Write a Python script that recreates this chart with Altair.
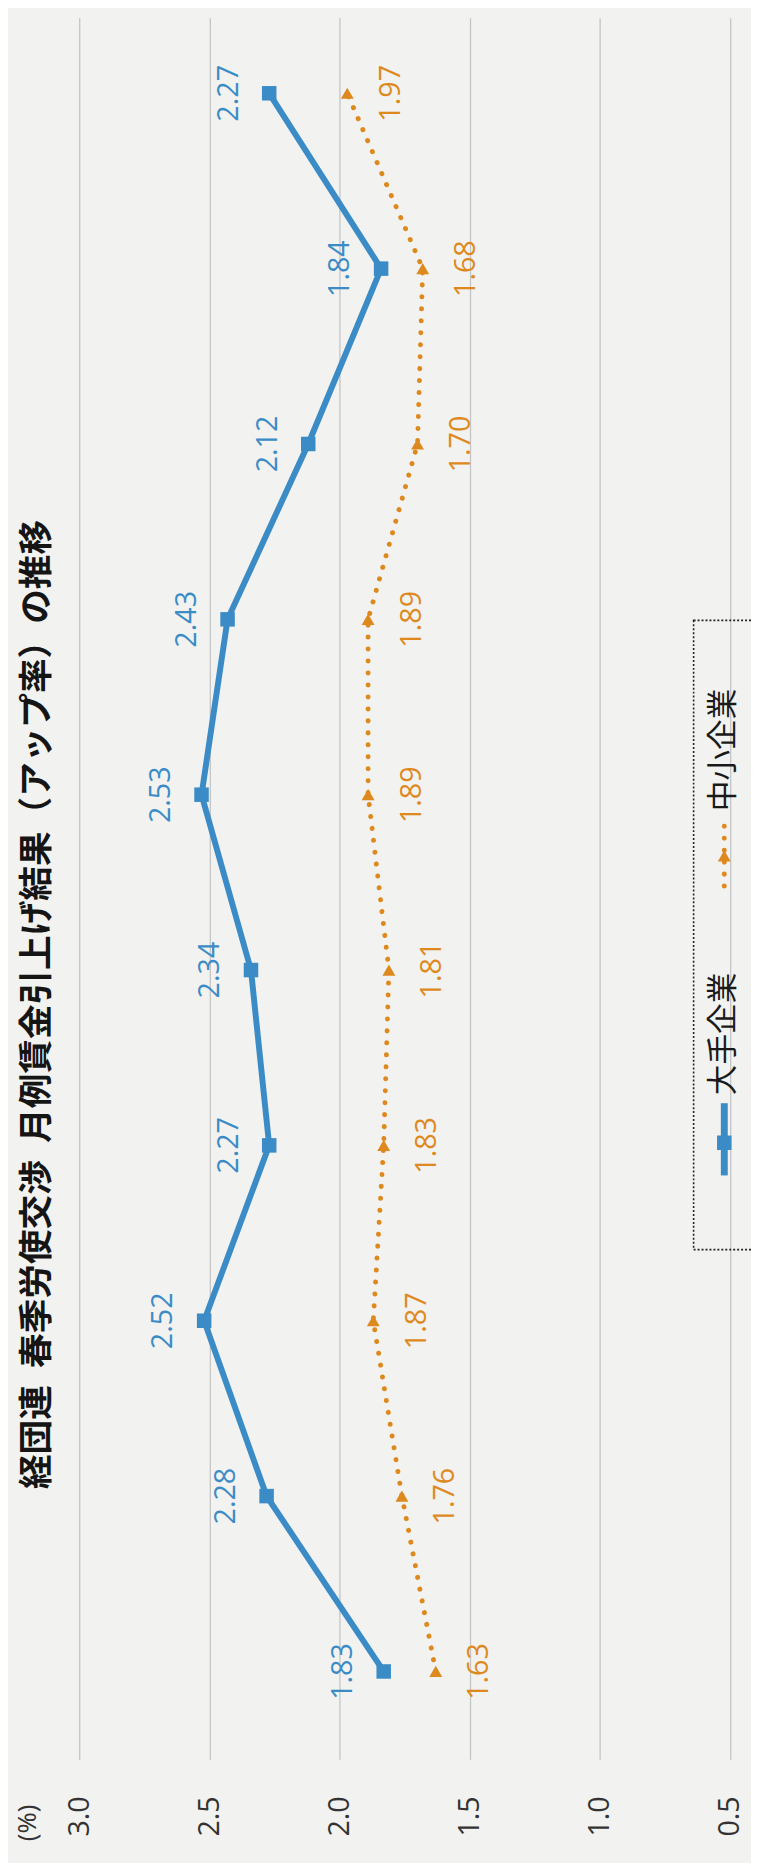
import altair as alt
import pandas as pd

# ---- data ----
years = ["2013", "2014", "2015", "2016", "2017", "2018", "2019", "2020", "2021", "2022"]
large = [1.83, 2.28, 2.52, 2.27, 2.34, 2.53, 2.43, 2.12, 1.84, 2.27]
small = [1.63, 1.76, 1.87, 1.83, 1.81, 1.89, 1.89, 1.70, 1.68, 1.97]
series_names = ["大手企業", "中小企業"]
value_ticks = [0.5, 1.0, 1.5, 2.0, 2.5, 3.0]
title_text = "経団連\u2002春季労使交渉\u2002月例賃金引上げ結果（アップ率）の推移"
unit_text = "(%)"

BLUE = "#3b8cc6"
ORANGE = "#de891e"
BG = "#f2f2f0"

df_large = pd.DataFrame({"idx": list(range(len(years))), "year": years, "value": large,
                         "label": [f"{v:.2f}" for v in large]})
df_small = pd.DataFrame({"idx": list(range(len(years))), "year": years, "value": small,
                         "label": [f"{v:.2f}" for v in small]})

X = alt.X(
    "value:Q",
    scale=alt.Scale(domain=[0.449, 3.0], reverse=True, nice=False, zero=False),
    axis=alt.Axis(
        values=value_ticks, format=".1f", labelAngle=270, labelPadding=37,
        ticks=False, domain=False, grid=True, gridColor="#c4c4c4", gridWidth=1.3,
        labelFont="Open Sans", labelFontSize=29, labelColor="#333333",
        title=unit_text, titleAngle=270, titleX=-52, titleY=64,
        titleAlign="center", titleBaseline="middle",
        titleFont="Open Sans", titleFontSize=26, titleFontWeight="normal",
        titleColor="#333333",
    ),
)
Y = alt.Y("idx:Q", scale=alt.Scale(domain=[-0.5, 9.43], nice=False, zero=False), axis=None)

base_l = alt.Chart(df_large)
base_s = alt.Chart(df_small)

line_l = base_l.mark_line(color=BLUE, strokeWidth=6).encode(x=X, y=Y, order="idx:Q")
pts_l = base_l.mark_point(shape="square", filled=True, size=215, color=BLUE, opacity=1).encode(x=X, y=Y)
txt_l = base_l.mark_text(angle=270, dy=-41, align="center", baseline="middle",
                         font="Open Sans", fontSize=29, color=BLUE).encode(x=X, y=Y, text="label:N")

line_s = base_s.mark_line(color=ORANGE, strokeWidth=5, strokeDash=[0.1, 12],
                          strokeCap="round").encode(x=X, y=Y, order="idx:Q")
pts_s = base_s.mark_point(shape="triangle-up", filled=True, size=170, color=ORANGE, opacity=1).encode(x=X, y=Y)
txt_s = base_s.mark_text(angle=270, dy=44, align="center", baseline="middle",
                         font="Open Sans", fontSize=29, color=ORANGE).encode(x=X, y=Y, text="label:N")

# ---- title (rotated) ----
title = alt.Chart(pd.DataFrame({"t": [title_text]})).mark_text(
    angle=270, align="left", baseline="middle", font="Noto Sans CJK JP",
    fontSize=35, fontWeight="bold", color="#151515"
).encode(text="t:N", x=alt.value(-43), y=alt.value(1487))

# ---- legend (drawn by hand, rotated) ----
one = pd.DataFrame({"k": [0]})
leg_box = alt.Chart(one).mark_rect(fill=None, stroke="#222222", strokeWidth=1.6,
                                   strokeDash=[2, 2]).encode(
    x=alt.value(621), x2=alt.value(720), y=alt.value(609), y2=alt.value(1245))
leg_line_l = alt.Chart(one).mark_rule(color=BLUE, strokeWidth=7).encode(
    x=alt.value(652), y=alt.value(1097), y2=alt.value(1170))
leg_pt_l = alt.Chart(one).mark_point(shape="square", filled=True, size=215, color=BLUE, opacity=1).encode(
    x=alt.value(652), y=alt.value(1137))
leg_line_s = alt.Chart(one).mark_rule(color=ORANGE, strokeWidth=5, strokeDash=[0.1, 12],
                                      strokeCap="round").encode(
    x=alt.value(652), y=alt.value(817), y2=alt.value(884))
leg_pt_s = alt.Chart(one).mark_point(shape="triangle-up", filled=True, size=170, color=ORANGE, opacity=1).encode(
    x=alt.value(652), y=alt.value(847))
leg_names = pd.DataFrame({"name": series_names})
leg_txt_l = alt.Chart(leg_names).transform_filter(alt.datum.name == series_names[0]).mark_text(
    angle=270, align="left", baseline="middle", font="Noto Sans CJK JP", fontSize=31, color="#1a1a1a"
).encode(text="name:N", x=alt.value(652), y=alt.value(1089))
leg_txt_s = alt.Chart(leg_names).transform_filter(alt.datum.name == series_names[1]).mark_text(
    angle=270, align="left", baseline="middle", font="Noto Sans CJK JP", fontSize=31, color="#1a1a1a"
).encode(text="name:N", x=alt.value(652), y=alt.value(802))

chart = alt.layer(
    line_l, line_s, pts_l, pts_s, txt_l, txt_s,
    title, leg_box, leg_line_l, leg_pt_l, leg_line_s, leg_pt_s, leg_txt_l, leg_txt_s
).properties(
    width=671, height=1760,
    autosize=alt.AutoSizeParams(type="none"),
    padding={"left": 72, "top": 0, "right": 8, "bottom": 95},
    background=BG,
).configure_view(stroke=None)

chart.save("out.html", embed_options={"renderer": "svg", "actions": False})
